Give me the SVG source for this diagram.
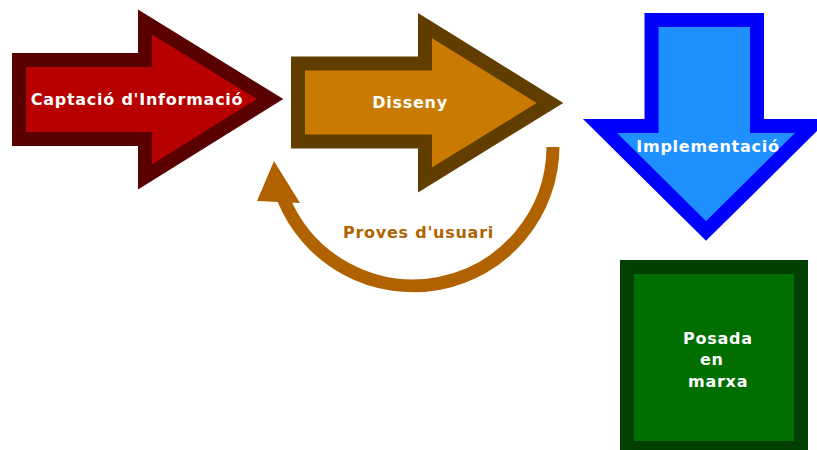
<svg xmlns="http://www.w3.org/2000/svg" width="817" height="450" viewBox="0 0 817 450">
<style>
.lbl{font-family:"DejaVu Sans",Verdana,sans-serif;font-weight:bold;font-size:16px;letter-spacing:0.75px;fill:#ffffff}
.shape{stroke-width:14;stroke-linejoin:miter;stroke-miterlimit:10}
</style>
<rect width="817" height="450" fill="#ffffff"/>
<g id="connectors">
<path d="M 553 147 A 140 140 0 0 1 283.5 199" fill="none" stroke="#b06200" stroke-width="13"/>
<polygon points="257,201 274,161 300,203" fill="#b06200"/>
<text class="lbl" x="418.5" y="238" text-anchor="middle" style="fill:#b06200">Proves d'usuari</text>
</g>
<g id="captacio">
<polygon class="shape" points="19,60 145,60 145,22 270,99 145,177 145,139 19,139" fill="#b80000" stroke="#5a0000"/>
<text class="lbl" x="137" y="105" text-anchor="middle">Captació d'Informació</text>
</g>
<g id="disseny">
<polygon class="shape" points="298,63.5 425,63.5 425,25.5 550,103 425,180 425,141.5 298,141.5" fill="#c97a00" stroke="#613d00"/>
<text class="lbl" x="410" y="108" text-anchor="middle">Disseny</text>
</g>
<g id="implementacio">
<polygon class="shape" points="651.5,20 757,20 757,126 812,126 706,231 600,126 651.5,126" fill="#1e90ff" stroke="#0000ff"/>
<text class="lbl" x="708" y="152" text-anchor="middle">Implementació</text>
</g>
<g id="posada">
<rect class="shape" x="627" y="267" width="174" height="181" fill="#006e00" stroke="#004000"/>
<text class="lbl" x="683" y="344">Posada</text>
<text class="lbl" x="700" y="365">en</text>
<text class="lbl" x="688" y="387">marxa</text>
</g>
</svg>
